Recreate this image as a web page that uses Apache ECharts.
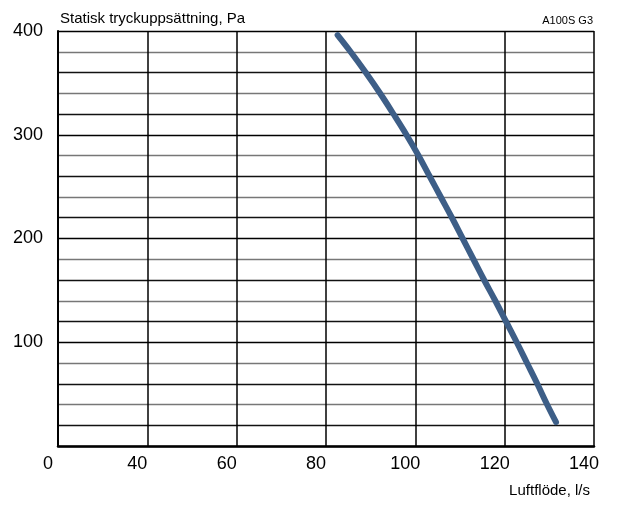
<!DOCTYPE html>
<html>
<head>
<meta charset="utf-8">
<script src="https://cdn.jsdelivr.net/npm/echarts@6/dist/echarts.min.js"></script>
<style>
  html, body { margin: 0; padding: 0; background: #fff; }
  #main { width: 623px; height: 517px; }
</style>
</head>
<body>
<div id="main"></div>
<script>
// luftflöde (l/s) och tryck (Pa) avläst från kurvan
var flow = [82.6, 85.5, 88.9, 92.1, 95.1, 98.0, 100.7, 103.2, 105.7, 108.2, 110.6, 113.0, 115.4, 117.9, 120.3, 122.7, 125.0, 127.3, 129.5, 131.5];
var pressure = [396, 380, 360, 340, 320, 300, 280, 260, 240, 220, 200, 180, 160, 140, 120, 100, 80, 60, 40, 23];

// x-axelns etiketter (första linjen är märkt "0" i originalet)
var xTicks = [20, 40, 60, 80, 100, 120, 140];
var xTickLabels = ['0', '40', '60', '80', '100', '120', '140'];
var yTickLabels = [100, 200, 300, 400];

var font = "'Liberation Sans', Arial, sans-serif";

var points = [];
for (var i = 0; i < flow.length; i++) {
    points.push([flow[i], pressure[i]]);
}

var myChart = echarts.init(document.getElementById('main'));
var option = {
    animation: false,
    backgroundColor: '#fff',
    title: [{
        text: 'Statisk tryckuppsättning, Pa',
        left: 55,
        top: 6,
        textStyle: { fontSize: 15, fontWeight: 'normal', color: '#000', fontFamily: font }
    }, {
        text: 'A100S G3',
        right: 25,
        top: 10,
        textStyle: { fontSize: 11, fontWeight: 'normal', color: '#000', fontFamily: font }
    }, {
        text: 'Luftflöde, l/s',
        right: 28,
        top: 478,
        textStyle: { fontSize: 15, fontWeight: 'normal', color: '#000', fontFamily: font }
    }],
    grid: {
        left: 58,
        right: 29,
        top: 31,
        bottom: 71
    },
    xAxis: {
        type: 'value',
        min: 20,
        max: 140,
        interval: 20,
        axisLine: { show: true, lineStyle: { color: '#000', width: 2.5 } },
        axisTick: { show: false },
        axisLabel: {
            fontSize: 18,
            color: '#000',
            fontFamily: font,
            margin: 9,
            padding: [0, 20, 0, 0],
            formatter: function (v) {
                var k = xTicks.indexOf(v);
                return k >= 0 ? xTickLabels[k] : '';
            }
        },
        splitLine: { show: true, lineStyle: { color: '#000', width: 1.5 } }
    },
    yAxis: {
        type: 'value',
        min: 0,
        max: 400,
        interval: 20,
        axisLine: { show: true, lineStyle: { color: '#000', width: 2 } },
        axisTick: { show: false },
        axisLabel: {
            fontSize: 18,
            color: '#000',
            fontFamily: font,
            margin: 15,
            formatter: function (v) {
                return yTickLabels.indexOf(v) >= 0 ? String(v) : '';
            }
        },
        splitLine: {
            show: true,
            lineStyle: { color: ['#000', '#111', '#777', '#111', '#777'], width: 1.3 }
        }
    },
    series: [{
        type: 'line',
        data: points,
        smooth: 0.4,
        showSymbol: false,
        lineStyle: { color: '#3d5e87', width: 6, cap: 'round' }
    }]
};

myChart.setOption(option);
</script>
</body>
</html>
